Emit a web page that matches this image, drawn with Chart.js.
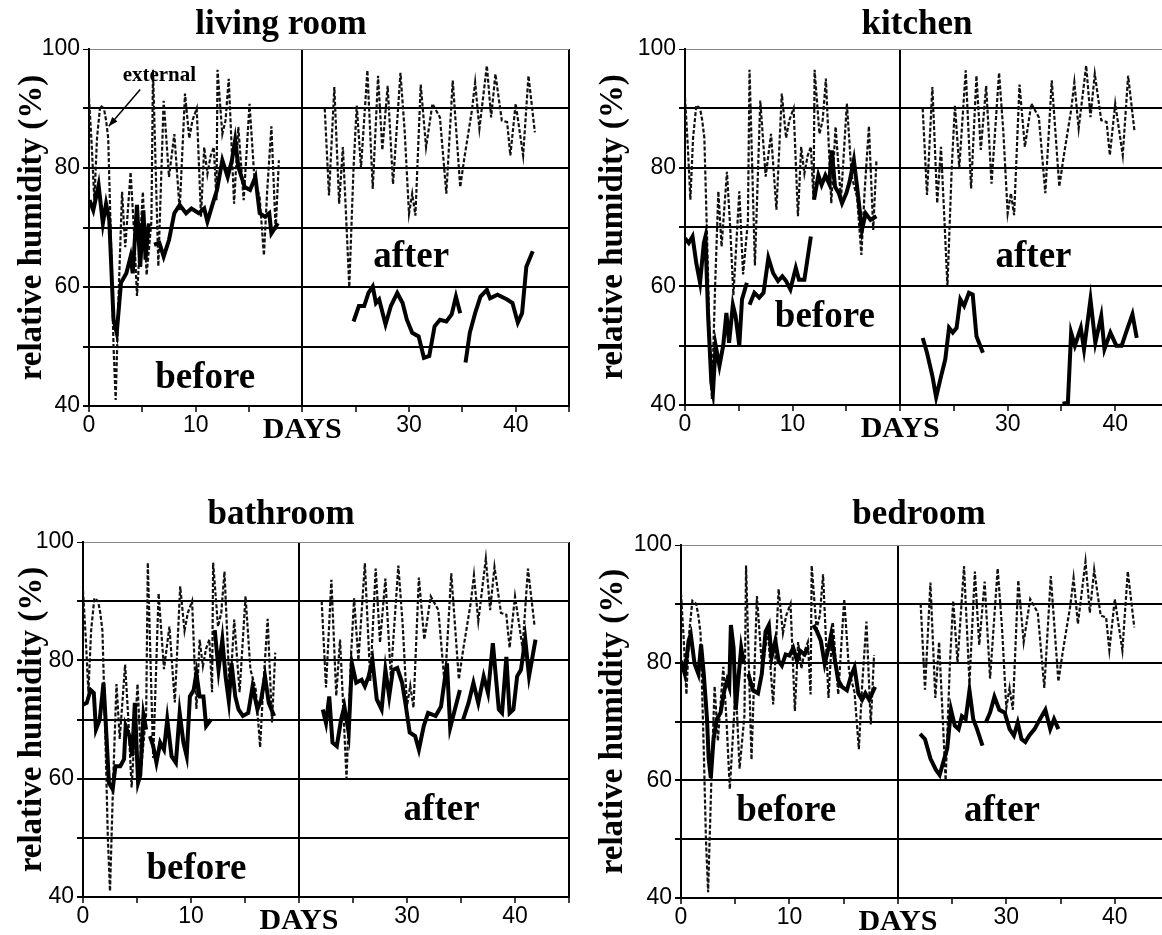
<!DOCTYPE html>
<html>
<head>
<meta charset="utf-8">
<script src="https://cdn.jsdelivr.net/npm/chart.js@4"></script>
<style>
  html, body { margin: 0; padding: 0; background: #fff; width: 1162px; height: 935px; overflow: hidden; }
  canvas { position: absolute; }
</style>
</head>
<body>
<canvas id="living" width="581" height="468" style="left:0;top:0"></canvas>
<canvas id="kitchen" width="600" height="468" style="left:581px;top:0"></canvas>
<canvas id="bath" width="581" height="465" style="left:0;top:470px"></canvas>
<canvas id="bed" width="600" height="465" style="left:581px;top:470px"></canvas>
<script>
// external humidity (same record in every panel), null = no data
const extDays = [0, 0.25, 0.5, 0.75, 1.05, 1.4, 1.6, 1.8, 2.1, 2.3, 2.5, 2.8, 3.1, 3.4, 3.9, 4.2, 4.5, 5.05, 5.4, 5.85,
  6.0, 6.5, 7.0, 7.5, 8.0, 8.5, 9.0, 9.4, 9.7, 10.1, 10.5, 10.8, 11.1, 11.4, 11.7, 11.95, 12.05, 12.5, 12.8, 13.1,
  13.6, 14.0, 14.5, 15.05, 15.5, 16.0, 16.4, 16.7, 17.1, 17.5, 17.8, 20,
  22.1, 22.5, 23.0, 23.45, 23.8, 24.1, 24.4, 24.8, 25.1, 25.5, 26.1, 26.6, 27.1, 27.5, 28.0, 28.5, 29.2, 29.6,
  30.0, 30.3, 30.6, 31.1, 31.6, 32.2, 32.9, 33.5, 34.1, 34.8, 35.2, 35.9, 36.2, 36.6, 37.3, 37.7, 38.1, 38.7,
  39.2, 39.5, 40.0, 40.7, 41.2, 41.8];
const extRH = [91.8, 84, 74.6, 85, 90.5, 90, 88, 85, 65, 50, 41, 60, 76, 66.7, 79.3, 70, 58.5, 76, 62, 71,
  96.5, 63.5, 91.3, 78.5, 85.7, 72.9, 92.5, 85, 88, 90, 71.8, 83.5, 79, 82, 83.5, 74.6, 96.5, 85.7, 88, 95,
  74, 86.9, 74.6, 90.8, 78.5, 75, 65.3, 76, 87, 69.5, 81.3, null,
  90, 75.4, 93.6, 74, 83.5, 72, 60, 80, 90.5, 80, 96.4, 76.5, 95.5, 83, 93.8, 77.3, 96, 86,
  72.3, 75.7, 72, 94, 83.5, 90.8, 88.5, 75.7, 94.7, 76.8, 81.8, 89.7, 94.4, 86.6, 97.2, 88.5, 95.8, 88,
  87.7, 82.1, 90.8, 82.1, 95.5, 86];

// room humidity
const livingDays = [0.05, 0.4, 0.9, 1.3, 1.6, 1.9, 2.3, 2.6, 3.0, 3.5, 3.9, 4.1, 4.5, 4.8, 5.1, 5.3, 5.6, 5.85,
  6.1, 6.6, 7.0, 7.5, 8.0, 8.5, 9.1, 9.6, 10.3, 10.8, 11.1, 11.7, 12.0, 12.5, 13.0, 13.4, 13.7, 14.0, 14.6, 15.1,
  15.6, 16.0, 16.5, 16.9, 17.1, 17.5, 17.7, 20,
  24.8, 25.3, 25.8, 26.2, 26.6, 26.9, 27.2, 27.8, 28.3, 28.9, 29.4, 29.8, 30.3, 30.9, 31.4, 31.9, 32.4, 32.9,
  33.5, 34.0, 34.4, 34.8, 35.05,
  35.3, 35.7, 36.2, 36.7, 37.3, 37.6, 38.3, 39.2, 39.7, 40.2, 40.6, 41.0, 41.6];
const livingRH = [74.6, 72.9, 77.1, 70.7, 74, 71.3, 54.5, 52.3, 60.7, 62.3, 65.1, 62.3, 73.8, 63.4, 72.9, 64.6, 70.7, null,
  67.1, 67.4, 65.1, 67.9, 72.4, 73.8, 72.4, 73.2, 72.4, 73.2, 71, 74.6, 76.3, 81.3, 78.5, 81.3, 84.7, 80.2, 76.8, 76.3,
  78.5, 72.4, 71.8, 72.4, 69, 70.1, 70.7, null,
  54.2, 56.8, 56.8, 59, 60.1, 57.3, 57.9, 53.7, 56.8, 59, 57.3, 54.5, 52.3, 51.7, 48.1, 48.4, 53.4, 54.5,
  54.2, 55.4, 58.4, 55.6, null,
  47.3, 52.3, 55.6, 58.4, 59.5, 58.1, 58.7, 57.9, 57.3, 54, 55.6, 63.4, 66];

const kitchenDays = [0, 0.35, 0.7, 1.05, 1.4, 1.75, 1.9, 2.15, 2.45, 2.6, 2.85, 3.2, 3.55, 3.85, 4.1, 4.45, 4.7, 5.05, 5.3, 5.75, 5.9,
  6.0, 6.45, 6.9, 7.3, 7.75, 8.2, 8.65, 9.05, 9.4, 9.8, 10.3, 10.6, 11.1, 11.7, 11.85,
  12.0, 12.4, 12.7, 13.05, 13.4, 13.65, 13.95, 14.3, 14.6, 15.0, 15.3, 15.7, 16.0, 16.45, 16.8, 17.25, 17.8, 20,
  22.1, 22.5, 23.0, 23.35, 23.75, 24.2, 24.55, 24.9, 25.25, 25.6, 25.95, 26.4, 26.75, 27.1, 27.7, 30,
  35.1, 35.6, 35.9, 36.25, 36.8, 37.1, 37.7, 38.15, 38.7, 39.0, 39.55, 40.1, 40.6, 41.1, 41.6, 42.0];
const kitchenRH = [68.1, 67.3, 68.4, 63.9, 60.6, 67.3, 68.4, 55, 43.8, 42.1, 50, 46.6, 50, 55.5, 50.5, 56.9, 55, 50, 57.8, 60.6, null,
  56.9, 58.9, 58.1, 58.9, 64.8, 62.2, 60.9, 61.7, 60.9, 59.5, 63.1, 61.1, 61.1, 68.4, null,
  74.6, 78.7, 77.1, 78.7, 77.3, 82.9, 76.8, 75.7, 74, 75.7, 77.6, 81.3, 76.8, 69.5, 72.3, 71.2, 71.8, null,
  51.3, 48.8, 44.9, 41.3, 44.4, 47.7, 53, 52.2, 53, 57.8, 56.7, 58.9, 58.6, 51.6, 48.8, null,
  40.2, 40.4, 52.2, 50, 53, 49.4, 57.8, 50.5, 55, 49.4, 52.2, 50, 50, 52.7, 55.3, 51.3];

const bathDays = [0, 0.35, 0.7, 1.0, 1.2, 1.55, 1.9, 2.1, 2.4, 2.75, 3.0, 3.45, 3.8, 3.95, 4.3, 4.55, 4.8, 5.1, 5.3, 5.6, 5.85, 6.0,
  6.2, 6.5, 6.8, 7.15, 7.5, 7.8, 8.2, 8.6, 8.95, 9.3, 9.6, 9.9, 10.25, 10.5, 10.8, 11.15, 11.4, 11.85, 12.0,
  12.2, 12.55, 12.9, 13.2, 13.5, 13.75, 14.1, 14.4, 14.8, 15.3, 15.7, 16.15, 16.5, 16.85, 17.2, 17.7, 20,
  22.2, 22.5, 22.8, 23.1, 23.5, 23.9, 24.2, 24.6, 24.9, 25.3, 25.8, 26.1, 26.45, 26.8, 27.2, 27.65, 28.0, 28.35,
  28.7, 29.1, 29.55, 29.9, 30.25, 30.75, 31.1, 31.55, 31.95, 32.65, 33.15, 33.7, 34.0, 34.35, 34.9, 35.05,
  35.2, 35.7, 36.15, 36.6, 37.1, 37.5, 37.95, 38.5, 38.8, 39.2, 39.5, 39.85, 40.2, 40.55, 40.95, 41.3, 41.9];
const bathRH = [72.5, 72.8, 75, 74.5, 68.3, 70, 76.2, 69.7, 59.3, 58.2, 62.1, 62.1, 63.3, 68.9, 67.2, 63.8, 72.8, 59.3, 60.5, 70.8, 68.3, null,
  67.2, 65.5, 62.7, 66.1, 64.9, 70, 63.8, 62.7, 71.1, 66.1, 63.8, 73.9, 75, 77.8, 73.9, 73.9, 68.9, 70, null,
  85.1, 78.4, 83.5, 77.3, 73.1, 79.5, 73.9, 71.7, 70.6, 71.1, 75.6, 71.7, 73.4, 77.3, 72.8, 70.6, null,
  71.7, 69.4, 73.9, 66.1, 65.5, 70, 72.2, 67.8, 79.5, 76.2, 76.7, 75.6, 77.3, 80, 73.4, 71.7, 78.4, 73.9,
  78.4, 78.7, 76.2, 72.2, 67.8, 67.2, 64.9, 68.9, 71.1, 70.6, 72.2, 79.5, 68.6, 71.1, 75, null,
  70, 72.8, 76.2, 72.8, 77.3, 74.5, 82.9, 71.7, 71.1, 80.6, 71.1, 71.7, 77.3, 78.4, 83.5, 77.3, 83.5];

const bedDays = [0, 0.35, 0.7, 0.9, 1.25, 1.6, 1.85, 2.1, 2.4, 2.55, 2.75, 3.0, 3.3, 3.65, 4.0, 4.25, 4.45, 4.6, 4.85, 5.05, 5.25, 5.55, 5.8, 6.0,
  6.2, 6.65, 7.1, 7.45, 7.8, 8.1, 8.35, 8.7, 9.0, 9.3, 9.65, 10.0, 10.35, 10.7, 11.0, 11.4, 11.7, 12.0,
  12.2, 12.55, 12.9, 13.25, 13.6, 13.85, 14.2, 14.5, 14.85, 15.3, 15.65, 16.0, 16.35, 16.7, 17.0, 17.35, 17.9, 20,
  22.05, 22.5, 23.0, 23.5, 23.85, 24.2, 24.55, 24.9, 25.25, 25.6, 25.9, 26.25, 26.6, 26.95, 27.3, 27.8, 27.95,
  28.1, 28.5, 28.9, 29.35, 29.85, 30.3, 30.7, 31.05, 31.4, 31.75, 32.1, 32.6, 33.1, 33.6, 34.05, 34.4, 34.8];
const bedRH = [80.3, 78.1, 83.7, 84.8, 79.8, 78.1, 83.1, 78.1, 70.4, 63.7, 60.4, 67, 70.4, 71.5, 75.3, 77, 75.9, 86.4, 82.5, 72, 76.5, 82.5, 79.8, null,
  78.1, 75.3, 74.8, 78.1, 85.3, 86.4, 80.9, 83.7, 80.3, 79.5, 81.4, 81.2, 82.5, 80.3, 82, 81.4, 82.5, null,
  86.4, 85.3, 83.7, 79.8, 82.5, 84.8, 80.3, 77, 75.9, 75.3, 77.6, 79.2, 74.8, 73.7, 74.8, 73.7, 75.9, null,
  67.9, 67, 63.7, 61.8, 60.9, 63.2, 65.4, 72, 69.3, 68.7, 70.9, 70.4, 75.3, 70.4, 68.7, 65.9, null,
  69.8, 71.5, 74.2, 72, 71.5, 68.7, 67.6, 69.8, 67, 66.5, 67.6, 68.7, 70.4, 72, 68.7, 70.4, 68.7];

// axis labels
const xTickValues = [0, 10, 20, 30, 40];
const xTickText = ["0", "10", "DAYS", "30", "40"];
const yTickValues = [40, 60, 80, 100];

// text notes inside each panel: [text, day, rh]
const livingNotes = [["before", 10.9, 44.7], ["after", 30.2, 64.9], ["external", 6.6, 95.5]];
const kitchenNotes = [["before", 13.0, 54.8], ["after", 32.4, 64.9]];
const bathNotes = [["before", 10.5, 44.6], ["after", 33.2, 54.7]];
const bedNotes = [["before", 9.7, 54.7], ["after", 29.6, 54.7]];

Chart.defaults.font.family = "Liberation Sans";
Chart.defaults.color = "#000";

function pares(days, rh) {
    return days.map((d, i) => ({ x: d, y: rh[i] }));
}

const notasPlugin = {
    id: "notas",
    afterDraw(chart, args, opts) {
        const ctx = chart.ctx;
        const sx = chart.scales.x;
        const sy = chart.scales.y;
        ctx.save();
        ctx.fillStyle = "#000";
        ctx.textAlign = "center";
        ctx.textBaseline = "middle";
        ctx.font = "bold 35px 'Liberation Serif'";
        ctx.fillText(opts.title, opts.titleX, opts.titleY);

        opts.notes.forEach(n => {
            const size = n[0] === "external" ? 21 : 37;
            ctx.font = `bold ${size}px 'Liberation Serif'`;
            ctx.fillText(n[0], sx.getPixelForValue(n[1]), sy.getPixelForValue(n[2]));
        });

        // arrow from the "external" label to the dotted line
        if (opts.arrow) {
            const x1 = sx.getPixelForValue(4.8), y1 = sy.getPixelForValue(93.2);
            const x2 = sx.getPixelForValue(1.85), y2 = sy.getPixelForValue(87.0);
            const ang = Math.atan2(y2 - y1, x2 - x1);
            ctx.strokeStyle = "#000";
            ctx.lineWidth = 1.5;
            ctx.beginPath();
            ctx.moveTo(x1, y1);
            ctx.lineTo(x2, y2);
            ctx.stroke();
            ctx.beginPath();
            ctx.moveTo(x2, y2);
            ctx.lineTo(x2 - 10 * Math.cos(ang - 0.35), y2 - 10 * Math.sin(ang - 0.35));
            ctx.lineTo(x2 - 10 * Math.cos(ang + 0.35), y2 - 10 * Math.sin(ang + 0.35));
            ctx.closePath();
            ctx.fill();
        }
        ctx.restore();
    }
};

function crearPanel(id, p) {
    const ctx = document.getElementById(id).getContext("2d");
    return new Chart(ctx, {
        type: "line",
        data: {
            datasets: [
                {
                    data: pares(p.days, p.rh),
                    borderColor: "#000",
                    borderWidth: 4,
                    pointRadius: 0,
                    tension: 0,
                    spanGaps: false,
                },
                {
                    data: pares(extDays, extRH),
                    borderColor: "#111",
                    borderWidth: 2.2,
                    borderDash: [4, 2],
                    pointRadius: 0,
                    tension: 0,
                    spanGaps: false,
                },
            ],
        },
        options: {
            responsive: false,
            animation: false,
            layout: { padding: { left: 0, top: p.top, right: p.right, bottom: 0 } },
            plugins: {
                legend: { display: false },
                tooltip: { enabled: false },
                notas: { title: p.title, titleX: p.titleX, titleY: p.titleY, notes: p.notes, arrow: !!p.arrow },
            },
            scales: {
                x: {
                    type: "linear",
                    min: 0,
                    max: 45,
                    afterFit: s => { s.height = p.xHeight; },
                    ticks: {
                        stepSize: 5,
                        autoSkip: false,
                        maxRotation: 0,
                        padding: 0,
                        color: "#000",
                        callback: v => {
                            const i = xTickValues.indexOf(v);
                            return i >= 0 ? xTickText[i] : "";
                        },
                        font: c => (c.tick && c.tick.value === 20)
                            ? { family: "Liberation Serif", size: 30, weight: "bold" }
                            : { family: "Liberation Sans", size: 23 },
                    },
                    grid: {
                        color: c => (c.tick && (c.tick.value === 20 || c.tick.value === 45)) ? "#000" : "rgba(0,0,0,0)",
                        lineWidth: 2,
                        tickColor: "#000",
                        tickWidth: 1.5,
                        tickLength: 6,
                    },
                    border: { color: "#000", width: 2 },
                },
                y: {
                    min: 40,
                    max: 100,
                    afterFit: s => { s.width = p.yWidth; },
                    ticks: {
                        stepSize: 10,
                        padding: 3,
                        color: "#000",
                        font: { family: "Liberation Sans", size: 23 },
                        callback: v => yTickValues.includes(v) ? String(v) : "",
                    },
                    grid: {
                        color: c => (c.tick && c.tick.value === 100) ? "#888" : "#000",
                        lineWidth: c => (c.tick && c.tick.value === 100) ? 1 : 2,
                        tickColor: "#000",
                        tickLength: 6,
                    },
                    border: { color: "#000", width: 2 },
                    title: {
                        display: true,
                        text: "relative humidity (%)",
                        color: "#000",
                        font: { family: "Liberation Serif", size: 33, weight: "bold" },
                        padding: { top: 13, bottom: 0 },
                    },
                },
            },
        },
        plugins: [notasPlugin],
    });
}

crearPanel("living", {
    days: livingDays, rh: livingRH, notes: livingNotes, arrow: true,
    title: "living room", titleX: 281, titleY: 25,
    top: 49, right: 12, yWidth: 89, xHeight: 62,
});
crearPanel("kitchen", {
    days: kitchenDays, rh: kitchenRH, notes: kitchenNotes,
    title: "kitchen", titleX: 336, titleY: 25,
    top: 49, right: 12, yWidth: 104, xHeight: 63,
});
crearPanel("bath", {
    days: bathDays, rh: bathRH, notes: bathNotes,
    title: "bathroom", titleX: 281, titleY: 45,
    top: 72, right: 12, yWidth: 83, xHeight: 38,
});
crearPanel("bed", {
    days: bedDays, rh: bedRH, notes: bedNotes,
    title: "bedroom", titleX: 338, titleY: 45,
    top: 75, right: 12, yWidth: 100, xHeight: 37,
});
</script>
</body>
</html>
